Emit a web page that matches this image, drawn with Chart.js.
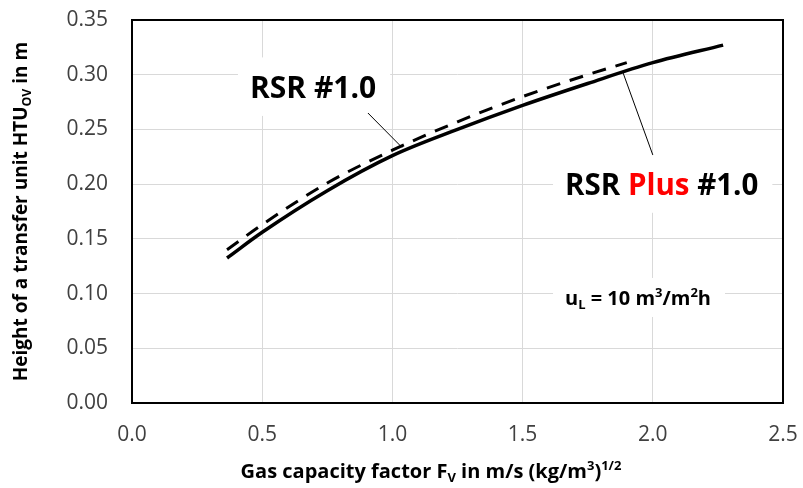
<!DOCTYPE html>
<html>
<head>
<meta charset="utf-8">
<script src="https://cdn.jsdelivr.net/npm/chart.js@4.4.1/dist/chart.umd.min.js"></script>
<style>
  html, body { margin: 0; padding: 0; background: #fff; }
  #c { display: block; }
</style>
</head>
<body>
<canvas id="c" width="803" height="488"></canvas>
<script>
// ---- data ----
const plusX  = [0.365, 0.5, 0.75, 1.0, 1.25, 1.5, 1.75, 2.0, 2.27];
const plusY  = [0.1325, 0.156, 0.194, 0.226, 0.250, 0.272, 0.292, 0.311, 0.327];
const rsrX   = [0.365, 0.5, 0.75, 1.0, 1.25, 1.5, 1.75, 1.9];
const rsrY   = [0.140, 0.163, 0.201, 0.231, 0.257, 0.280, 0.300, 0.311];
const xTicks = [0.0, 0.5, 1.0, 1.5, 2.0, 2.5];
const yTicks = [0.00, 0.05, 0.10, 0.15, 0.20, 0.25, 0.30, 0.35];
const labelRsr  = "RSR #1.0";
const labelPlus = ["RSR ", "Plus", " #1.0"];
const yTitle = [["Height of a transfer unit HTU", "n"], ["OV", "sub"], [" in m", "n"]];
const xTitle = [["Gas capacity factor F", "n"], ["V", "sub"], [" in m/s (kg/m", "n"], ["3", "sup"], [")", "n"], ["1/2", "sup"]];
const noteUL = [["u", "n"], ["L", "sub"], [" = 10 m", "n"], ["3", "sup"], ["/m", "n"], ["2", "sup"], ["h", "n"]];

const FONT = "'Open Sans', 'DejaVu Sans', sans-serif";

function pts(xs, ys) { return xs.map((x, i) => ({ x: x, y: ys[i] })); }

function richWidth(ctx, segs, size, weight) {
  let w = 0;
  for (const [t, k] of segs) {
    const s = k === 'n' ? size : size * 0.65;
    ctx.font = `${weight} ${s}px ${FONT}`;
    w += ctx.measureText(t).width;
  }
  return w;
}
function drawRich(ctx, segs, x, y, size, weight, color) {
  let cx = x;
  ctx.textBaseline = 'alphabetic';
  ctx.textAlign = 'left';
  for (const [t, k] of segs) {
    const s = k === 'n' ? size : size * 0.65;
    ctx.font = `${weight} ${s}px ${FONT}`;
    ctx.fillStyle = color;
    const dy = k === 'sub' ? size * 0.22 : (k === 'sup' ? -size * 0.38 : 0);
    ctx.fillText(t, cx, y + dy);
    cx += ctx.measureText(t).width;
  }
}

const RSR_POS  = { x: 0.453, y: 0.2788, size: 30 };
const PLUS_POS = { x: 1.663, y: 0.190, size: 29.5 };
const UL_POS   = { x: 1.663, y: 0.0896, size: 20 };

const decor = {
  id: 'decor',
  beforeDatasetsDraw(chart) {
    const ctx = chart.ctx, xs = chart.scales.x, ys = chart.scales.y;
    ctx.save();
    const boxes = [
      Object.assign({ segs: [[labelRsr, 'n']] }, RSR_POS),
      Object.assign({ segs: labelPlus.map(t => [t, 'n']) }, PLUS_POS),
      Object.assign({ segs: noteUL }, UL_POS)
    ];
    ctx.fillStyle = '#fff';
    for (const b of boxes) {
      const px = xs.getPixelForValue(b.x), py = ys.getPixelForValue(b.y);
      const w = richWidth(ctx, b.segs, b.size, 'bold');
      ctx.fillRect(px - 12, py - b.size * 1.35, w + 26, b.size * 1.95);
    }
    ctx.restore();
  },
  afterDatasetsDraw(chart) {
    const ctx = chart.ctx, xs = chart.scales.x, ys = chart.scales.y;
    const a = chart.chartArea;
    ctx.save();
    ctx.strokeStyle = '#000';
    ctx.lineWidth = 1;
    const leaders = [[0.906, 0.265, 1.037, 0.2335], [1.886, 0.3016, 2.0, 0.2267]];
    for (const [x1, y1, x2, y2] of leaders) {
      ctx.beginPath();
      ctx.moveTo(xs.getPixelForValue(x1), ys.getPixelForValue(y1));
      ctx.lineTo(xs.getPixelForValue(x2), ys.getPixelForValue(y2));
      ctx.stroke();
    }
    drawRich(ctx, [[labelRsr, 'n']], xs.getPixelForValue(RSR_POS.x), ys.getPixelForValue(RSR_POS.y), RSR_POS.size, 'bold', '#000');
    let px = xs.getPixelForValue(PLUS_POS.x), py = ys.getPixelForValue(PLUS_POS.y);
    ctx.font = `bold ${PLUS_POS.size}px ${FONT}`;
    ctx.textAlign = 'left'; ctx.textBaseline = 'alphabetic';
    ctx.fillStyle = '#000'; ctx.fillText(labelPlus[0], px, py); px += ctx.measureText(labelPlus[0]).width;
    ctx.fillStyle = '#ff0000'; ctx.fillText(labelPlus[1], px, py); px += ctx.measureText(labelPlus[1]).width;
    ctx.fillStyle = '#000'; ctx.fillText(labelPlus[2], px, py);
    drawRich(ctx, noteUL, xs.getPixelForValue(UL_POS.x), ys.getPixelForValue(UL_POS.y), UL_POS.size, 'bold', '#000');
    // plot border
    ctx.strokeStyle = '#000';
    ctx.lineWidth = 2;
    ctx.strokeRect(a.left, a.top, a.right - a.left, a.bottom - a.top);
    // axis titles
    const tx = 20;
    const wx = richWidth(ctx, xTitle, tx, 'bold');
    drawRich(ctx, xTitle, 431 - wx / 2, 478, tx, 'bold', '#000');
    const ty = 19;
    const wy = richWidth(ctx, yTitle, ty, 'bold');
    ctx.translate(27, (a.top + a.bottom) / 2);
    ctx.rotate(-Math.PI / 2);
    drawRich(ctx, yTitle, -wy / 2, 0, ty, 'bold', '#000');
    ctx.restore();
  }
};

function noPad(s) { s.paddingLeft = 0; s.paddingRight = 0; s.paddingTop = 0; s.paddingBottom = 0; }

new Chart(document.getElementById('c'), {
  type: 'scatter',
  data: {
    datasets: [
      {
        label: 'RSR Plus #1.0',
        data: pts(plusX, plusY),
        showLine: true,
        borderColor: '#000',
        borderWidth: 3.5,
        pointRadius: 0,
        cubicInterpolationMode: 'monotone',
        fill: false
      },
      {
        label: 'RSR #1.0',
        data: pts(rsrX, rsrY),
        showLine: true,
        borderColor: '#000',
        borderWidth: 3,
        borderDash: [14, 10],
        pointRadius: 0,
        cubicInterpolationMode: 'monotone',
        fill: false
      }
    ]
  },
  options: {
    responsive: false,
    animation: false,
    devicePixelRatio: 1,
    layout: { padding: { left: 0, top: 20, right: 20, bottom: 0 } },
    plugins: { legend: { display: false }, tooltip: { enabled: false } },
    scales: {
      x: {
        type: 'linear',
        min: 0, max: 2.5,
        afterBuildTicks: s => { s.ticks = xTicks.map(v => ({ value: v })); },
        afterFit: s => { s.height = 85; noPad(s); },
        grid: { color: '#d9d9d9', lineWidth: 1, drawTicks: false },
        border: { display: false },
        ticks: {
          padding: 19,
          color: '#404040',
          font: { family: FONT, size: 21 },
          callback: v => Number(v).toFixed(1)
        }
      },
      y: {
        type: 'linear',
        min: 0, max: 0.35,
        afterBuildTicks: s => { s.ticks = yTicks.map(v => ({ value: v })); },
        afterFit: s => { s.width = 132; noPad(s); },
        grid: { color: '#d9d9d9', lineWidth: 1, drawTicks: false },
        border: { display: false },
        ticks: {
          padding: 24,
          color: '#404040',
          font: { family: FONT, size: 21 },
          callback: v => Number(v).toFixed(2)
        }
      }
    }
  },
  plugins: [decor]
});
</script>
</body>
</html>
